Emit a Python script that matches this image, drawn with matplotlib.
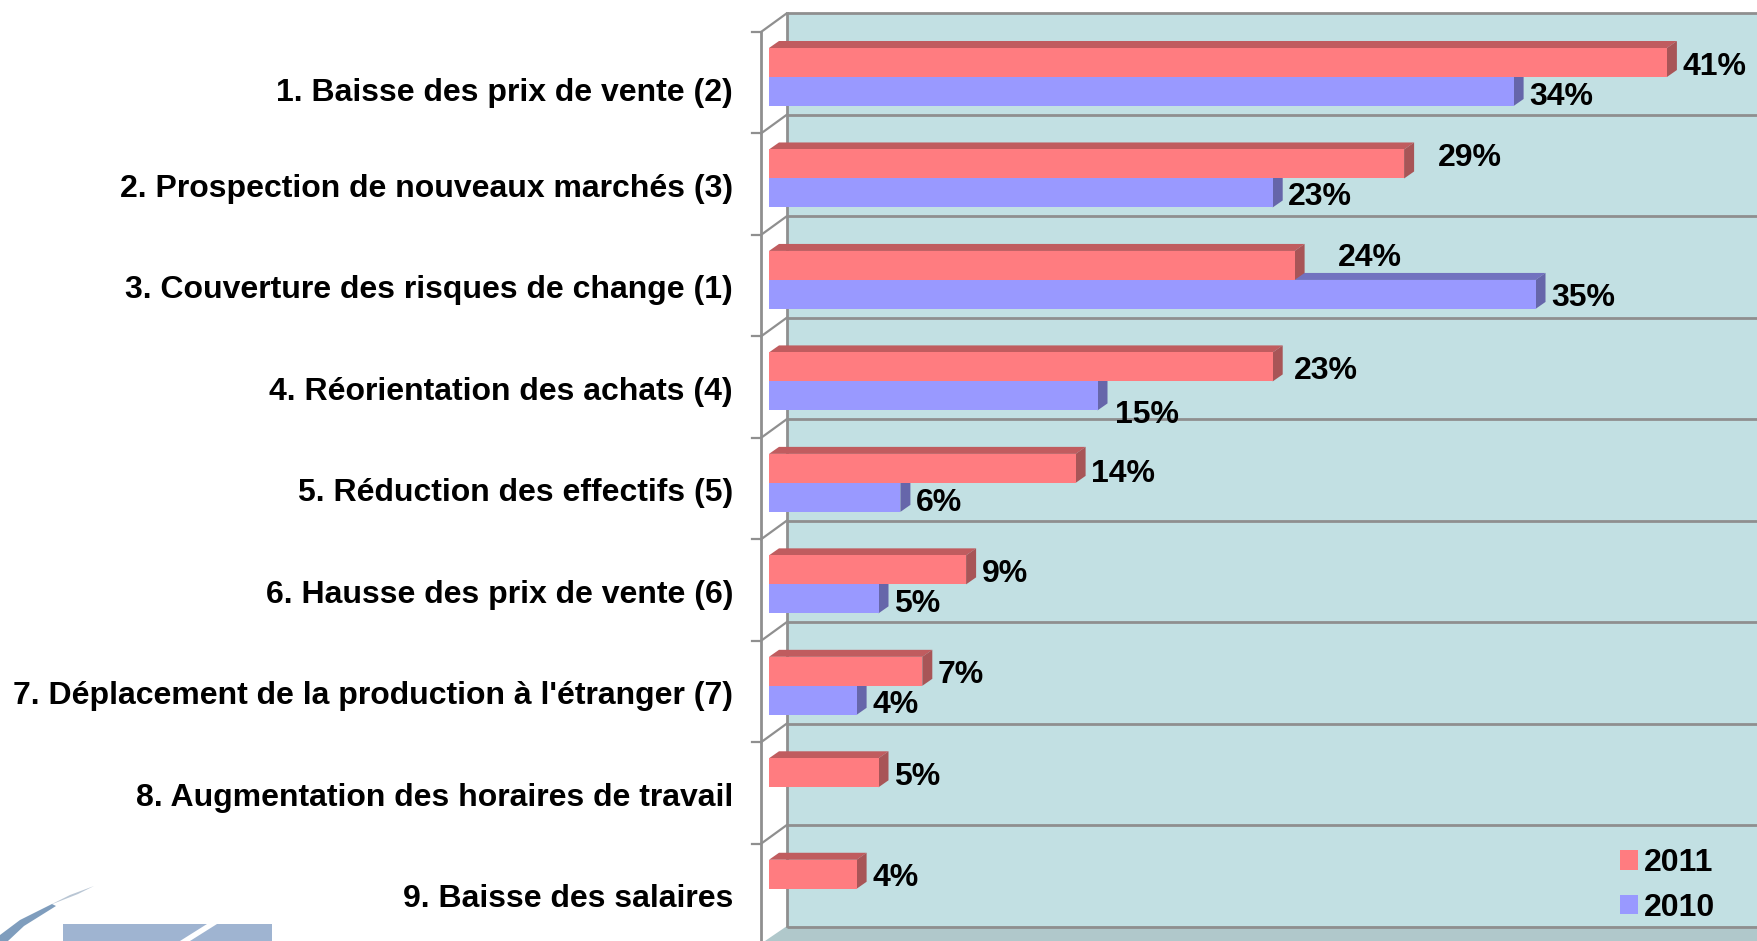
import matplotlib
matplotlib.use("Agg")
import matplotlib.pyplot as plt
from matplotlib.patches import Polygon, Patch

categories = ["1. Baisse des prix de vente (2)", "2. Prospection de nouveaux marchés (3)",
              "3. Couverture des risques de change (1)", "4. Réorientation des achats (4)",
              "5. Réduction des effectifs (5)", "6. Hausse des prix de vente (6)",
              "7. Déplacement de la production à l'étranger (7)",
              "8. Augmentation des horaires de travail", "9. Baisse des salaires"]
values_2011 = [41, 29, 24, 23, 14, 9, 7, 5, 4]
values_2010 = [34, 23, 35, 15, 6, 5, 4, None, None]
years = ["2011", "2010"]

W, H = 1757, 941
PX_X, PX_Y = 21.9, 101.47
X0, Y0 = 769, 77
plt.rcParams['font.family'] = ['Liberation Sans', 'DejaVu Sans']
fig = plt.figure(figsize=(W/100, H/100), dpi=100, facecolor='white')
ax = fig.add_axes([0, 0, 1, 1])
ax.set_xlim(-X0/PX_X, (W-X0)/PX_X)
ax.set_ylim((H-Y0)/PX_Y, -Y0/PX_Y)
ax.axis('off')

px = lambda x: (x-X0)/PX_X
py = lambda y: (y-Y0)/PX_Y
n = len(categories)
GRID = '#8f8f8f'; WALL = '#c2e0e3'; FLOOR = '#b0c8cb'
top_w, floor_w = 13.5, 926.5
wx, fx = 786.5, 761
dy_back = 18.5

# walls
ax.add_patch(Polygon([(px(wx), py(top_w)), (px(W), py(top_w)), (px(W), py(floor_w)), (px(wx), py(floor_w))],
                     fc=WALL, ec='none', zorder=1))
ax.add_patch(Polygon([(px(wx), py(floor_w)), (px(W), py(floor_w)), (px(W), py(H)), (px(765), py(H))],
                     fc=FLOOR, ec='none', zorder=1))
for i in range(n+1):
    yb = top_w + i*PX_Y
    ax.plot([px(wx), px(W)], [py(yb), py(yb)], color=GRID, lw=2, zorder=2, solid_capstyle='butt')
    if i < n:
        ax.plot([px(fx), px(wx)], [py(yb+dy_back), py(yb)], color=GRID, lw=1.6, zorder=2)
        ax.plot([px(fx-9), px(fx)], [py(yb+dy_back), py(yb+dy_back)], color=GRID, lw=1.6, zorder=2)
ax.plot([px(wx), px(wx)], [py(top_w), py(floor_w)], color=GRID, lw=2, zorder=2)
ax.plot([px(fx), px(fx)], [py(top_w+dy_back), py(H)], color=GRID, lw=2, zorder=2)

BAR_H = 29/PX_Y
DX, DY = 10/PX_X, 7/PX_Y

def bar3d(values, offset, front, top, side, z):
    ys = [i+offset for i in range(n) if values[i] is not None]
    vs = [v for v in values if v is not None]
    ax.barh(ys, vs, height=BAR_H, color=front, edgecolor='none', zorder=z+.2)
    for y, v in zip(ys, vs):
        t, b = y-BAR_H/2, y+BAR_H/2
        ax.add_patch(Polygon([(0, t), (DX, t-DY), (v+DX, t-DY), (v, t)], fc=top, ec='none', zorder=z))
        ax.add_patch(Polygon([(v, t), (v+DX, t-DY), (v+DX, b-DY), (v, b)], fc=side, ec='none', zorder=z))

bar3d(values_2010, BAR_H/2, '#9999ff', '#7272bf', '#6666aa', 3)
bar3d(values_2011, -BAR_H/2, '#ff7c80', '#c05c5f', '#a85557', 4)

# value labels: nudged by hand where the source moved them
LBL = 23
nudge_2011 = {0: (0, 1), 1: (18, -10), 2: (28, -11), 3: (6, 0), 4: (0, 2)}
nudge_2010 = {0: (0, 1), 1: (0, -1), 2: (0, -1), 3: (2, 14), 4: (0, 1)}
for i, v in enumerate(values_2011):
    dx, dyy = nudge_2011.get(i, (0, 0))
    ax.text(v + (15.5+dx)/PX_X, i - BAR_H/2 + (4+dyy)/PX_Y, f"{v}%", fontsize=LBL, fontweight='bold',
            va='center', ha='left', color='black', zorder=6)
for i, v in enumerate(values_2010):
    if v is None:
        continue
    dx, dyy = nudge_2010.get(i, (0, 0))
    ax.text(v + (15.5+dx)/PX_X, i + BAR_H/2 + (5+dyy)/PX_Y, f"{v}%", fontsize=LBL, fontweight='bold',
            va='center', ha='left', color='black', zorder=6)

# category labels
cat_nudge = {0: 6, 1: 0.5}
for i, c in enumerate(categories):
    ax.text(px(733), i + (10.5+cat_nudge.get(i, 0))/PX_Y, c, fontsize=23, fontweight='bold',
            ha='right', va='center', color='black', zorder=6)

# legend
handles = [Patch(fc='#ff7c80', ec='none'), Patch(fc='#9999ff', ec='none')]
leg = ax.legend(handles, years, loc='lower left', bbox_to_anchor=(1620/W, 1-(923/H)), frameon=False,
                prop={'weight': 'bold', 'size': 23}, handlelength=0.55, handleheight=0.55,
                handletextpad=0.2, labelspacing=0.46, borderpad=0, borderaxespad=0)
leg.set_zorder(7)

# logo at lower left
BLUE = '#9fb4d1'
ax.add_patch(Polygon([(px(63), py(924)), (px(272), py(924)), (px(272), py(H)), (px(63), py(H))], fc=BLUE, ec='none', zorder=1))
ax.add_patch(Polygon([(px(207), py(924)), (px(217), py(924)), (px(190), py(H)), (px(180), py(H))], fc='white', ec='none', zorder=1.5))
ax.add_patch(Polygon([(px(94), py(886)), (px(70), py(895)), (px(50), py(905)), (px(78), py(894))],
                     fc='#b9c6d4', ec='none', zorder=1))
ax.add_patch(Polygon([(px(52), py(904)), (px(20), py(920)), (px(0), py(935)), (px(0), py(H)), (px(8), py(H)), (px(24), py(926)), (px(56), py(906))],
                     fc='#7f9dbd', ec='none', zorder=1))

fig.savefig('out.png', dpi=100, facecolor='white')
